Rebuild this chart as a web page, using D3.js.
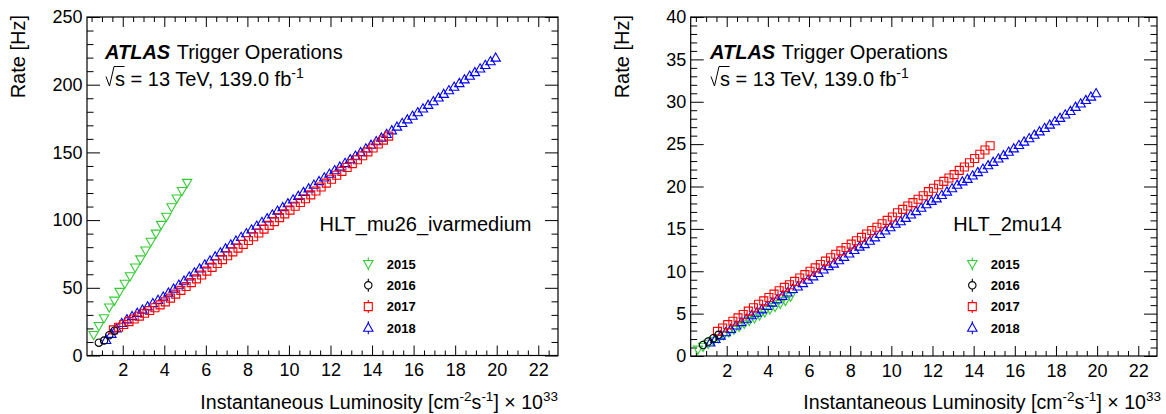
<!DOCTYPE html>
<html>
<head>
<meta charset="utf-8">
<script src="https://cdn.jsdelivr.net/npm/d3@7"></script>
<style>
  html, body { margin: 0; padding: 0; background: #fff; }
  svg { display: block; font-family: "Liberation Sans", Arial, Helvetica, sans-serif; }
</style>
</head>
<body>
<svg id="chart" width="1166" height="414"></svg>
<script>
// ---------------- DATA ----------------
const years = ["2015", "2016", "2017", "2018"];
const xTickLabels = [2, 4, 6, 8, 10, 12, 14, 16, 18, 20, 22];
const yTickLabelsLeft = [0, 50, 100, 150, 200, 250];
const yTickLabelsRight = [0, 5, 10, 15, 20, 25, 30, 35, 40];

// luminosity bins (x 10^33 cm^-2 s^-1)
const lumi2015 = [0.6,0.85,1.1,1.35,1.6,1.85,2.1,2.35,2.6,2.85,3.1,3.35,3.6,3.85,4.1,4.35,4.6,4.85,5.1];
const lumi2016 = [0.85,1.1,1.35,1.6];
const lumi2017 = [1.55,1.8,2.05,2.3,2.55,2.8,3.05,3.3,3.55,3.8,
  4.05,4.3,4.55,4.8,5.05,5.3,5.55,5.8,6.05,6.3,
  6.55,6.8,7.05,7.3,7.55,7.8,8.05,8.3,8.55,8.8,
  9.05,9.3,9.55,9.8,10.05,10.3,10.55,10.8,11.05,11.3,
  11.55,11.8,12.05,12.3,12.55,12.8,13.05,13.3,13.55,13.8,
  14.05,14.3,14.55,14.8];
const lumi2018 = [1.2,1.45,1.7,1.95,2.2,2.45,2.7,2.95,3.2,3.45,3.7,3.95,
  4.2,4.45,4.7,4.95,5.2,5.45,5.7,5.95,6.2,6.45,6.7,6.95,7.2,
  7.45,7.7,7.95,8.2,8.45,8.7,8.95,9.2,9.45,9.7,9.95,10.2,10.45,10.7,10.95,
  11.2,11.45,11.7,11.95,12.2,12.45,12.7,12.95,13.2,13.45,13.7,13.95,14.2,14.45,14.7,14.95,15.2,
  15.45,15.7,15.95,16.2,16.45,16.7,16.95,17.2,17.45,17.7,17.95,18.2,18.45,18.7,18.95,19.2,19.45,19.7,19.95];

// HLT_mu26_ivarmedium rates [Hz]
const mu26_2015 = [15.1,21.8,27.5,35.5,40.5,47,53,58.5,65,71,77.5,84,90,96.5,102.5,109.5,116,121.5,127.5];
const mu26_2016 = [9.5,11,15,18.3];
const mu26_2017 = [18.9,20.9,22.9,25,27,29.1,31.2,33.2,35.3,37.4,
  39.6,42.4,45.3,48.1,51,53.8,56.6,59.5,62.3,65.1,
  68,70.8,73.7,76.5,79.3,82.1,84.9,87.7,90.5,93.3,
  96.1,98.9,101.8,104.6,107.4,110.2,113,115.8,118.6,121.5,
  124.4,127.3,130.2,133.1,136,138.8,141.7,144.6,147.5,150.4,
  153.3,156.2,159.1,162];
const mu26_2018 = [11.5,16,20,24,26.7,29.1,31.5,33.9,36.3,38.7,41.1,43.5,
  46.4,49.4,52.3,55.3,58.3,61.3,64.2,67.2,70.2,73.2,76.1,79.1,82,
  84.8,87.5,90.3,93.1,95.8,98.6,101.3,104.1,106.9,109.6,112.4,115.2,117.9,120.7,123.4,
  126.1,128.8,131.5,134.2,136.8,139.5,142.2,144.9,147.5,150.2,152.9,155.6,158.2,160.9,163.6,166.3,169,
  171.7,174.4,177.1,179.7,182.4,185.1,187.8,190.5,193.2,195.9,198.5,201.2,203.9,206.6,209.3,212,214.6,217.3,220];

// HLT_2mu14 rates [Hz]
const mu14_2015 = [0.75,1.1,1.45,1.8,2.1,2.45,2.8,3.1,3.45,3.8,4.15,4.45,4.8,5.15,5.5,5.8,6.15,6.5,7.0];
const mu14_2016 = [1.3,1.7,2.1,2.5];
const mu14_2017 = [2.9,3.3,3.7,4.1,4.5,4.9,5.3,5.7,6.1,6.5,
  6.9,7.3,7.7,8.1,8.4,8.8,9.2,9.6,10.0,10.4,
  10.8,11.2,11.6,12.0,12.4,12.8,13.2,13.6,14.0,14.4,
  14.8,15.2,15.6,16.0,16.4,16.9,17.3,17.7,18.1,18.5,
  18.9,19.4,19.8,20.2,20.6,21.0,21.4,21.9,22.3,22.8,
  23.3,23.8,24.3,24.8];
const mu14_2018 = [1.6,2.0,2.4,2.8,3.2,3.6,4.0,4.4,4.8,5.1,5.5,5.9,
  6.3,6.7,7.1,7.5,7.9,8.2,8.6,9.0,9.4,9.8,10.2,10.6,10.9,
  11.3,11.7,12.1,12.5,12.9,13.2,13.6,14.0,14.4,14.8,15.2,15.6,15.9,16.3,16.7,
  17.1,17.5,17.9,18.3,18.6,19.0,19.4,19.8,20.2,20.6,20.9,21.3,21.7,22.1,22.5,22.9,23.3,
  23.7,24.1,24.5,24.9,25.3,25.7,26.1,26.5,26.9,27.3,27.7,28.1,28.5,28.9,29.4,29.8,30.2,30.6,31.0];

// ---------------- STYLE ----------------
const colors = { "2015": "#33cc33", "2016": "#000000", "2017": "#ff0000", "2018": "#0000ff" };
const shapes = { "2015": "triDown", "2016": "circle", "2017": "square", "2018": "triUp" };
const FONT = '"Liberation Sans", Arial, Helvetica, sans-serif';

function markerPath(shape) {
  switch (shape) {
    case "triUp": return "M0,-4.7L4.7,3.5L-4.7,3.5Z";
    case "triDown": return "M0,4.7L4.7,-3.5L-4.7,-3.5Z";
    case "square": return "M-4,-4L4,-4L4,4L-4,4Z";
    case "circle": return d3.arc()({innerRadius: 0, outerRadius: 3.7, startAngle: 0, endAngle: 2 * Math.PI});
  }
}

const svg = d3.select("#chart");
svg.append("rect").attr("width", 1166).attr("height", 414).attr("fill", "#fff");

const panels = [
  {
    x0: 87, x1: 558, y0: 17, y1: 355.5,
    xDomain: [0.28, 22.95], yDomain: [0, 250], yTicks: yTickLabelsLeft, yMinorStep: 10,
    series: { "2015": [lumi2015, mu26_2015], "2016": [lumi2016, mu26_2016], "2017": [lumi2017, mu26_2017], "2018": [lumi2018, mu26_2018] },
    label: "HLT_mu26_ivarmedium", labelX: 319.5, labelY: 230.7,
    atlasX: 105, legMarkX: 368.3, legTextX: 386.7,
    yTitleX: 25, xTitleEnd: 558
  },
  {
    x0: 690.7, x1: 1157, y0: 17, y1: 356,
    xDomain: [0.25, 22.91], yDomain: [0, 40], yTicks: yTickLabelsRight, yMinorStep: 1,
    series: { "2015": [lumi2015, mu14_2015], "2016": [lumi2016, mu14_2016], "2017": [lumi2017, mu14_2017], "2018": [lumi2018, mu14_2018] },
    label: "HLT_2mu14", labelX: 953.3, labelY: 231,
    atlasX: 710, legMarkX: 972.3, legTextX: 990.7,
    yTitleX: 629, xTitleEnd: 1161
  }
];

panels.forEach(p => {
  const x = d3.scaleLinear().domain(p.xDomain).range([p.x0, p.x1]);
  const y = d3.scaleLinear().domain(p.yDomain).range([p.y1, p.y0]);
  const g = svg.append("g");

  // minor ticks
  const xMinor = d3.range(0.5, p.xDomain[1], 0.5).filter(v => v > p.xDomain[0] && Math.abs(v / 2 - Math.round(v / 2)) > 1e-6);
  const yMinor = d3.range(p.yDomain[0], p.yDomain[1], p.yMinorStep).filter(v => !p.yTicks.includes(v));

  const styleAxis = sel => {
    sel.select(".domain").remove();
    sel.selectAll(".tick line").attr("stroke", "#000").attr("stroke-width", 1);
    sel.selectAll("text").attr("font-family", FONT).attr("font-size", 18).attr("fill", "#000");
  };

  // bottom axis
  g.append("g").attr("transform", `translate(0,${p.y1})`)
    .call(d3.axisBottom(x).tickValues(xTickLabels).tickSize(-10).tickSizeOuter(0).tickPadding(8).tickFormat(d3.format("d")))
    .call(styleAxis);
  g.append("g").attr("transform", `translate(0,${p.y1})`)
    .call(d3.axisBottom(x).tickValues(xMinor).tickSize(-5).tickSizeOuter(0).tickFormat(""))
    .call(styleAxis);
  // top axis
  g.append("g").attr("transform", `translate(0,${p.y0})`)
    .call(d3.axisTop(x).tickValues(xTickLabels).tickSize(-10).tickSizeOuter(0).tickFormat(""))
    .call(styleAxis);
  g.append("g").attr("transform", `translate(0,${p.y0})`)
    .call(d3.axisTop(x).tickValues(xMinor).tickSize(-5).tickSizeOuter(0).tickFormat(""))
    .call(styleAxis);
  // left axis
  g.append("g").attr("transform", `translate(${p.x0},0)`)
    .call(d3.axisLeft(y).tickValues(p.yTicks).tickSize(-13).tickSizeOuter(0).tickPadding(4.5).tickFormat(d3.format("d")))
    .call(styleAxis);
  g.append("g").attr("transform", `translate(${p.x0},0)`)
    .call(d3.axisLeft(y).tickValues(yMinor).tickSize(-6.5).tickSizeOuter(0).tickFormat(""))
    .call(styleAxis);
  // right axis
  g.append("g").attr("transform", `translate(${p.x1},0)`)
    .call(d3.axisRight(y).tickValues(p.yTicks).tickSize(-13).tickSizeOuter(0).tickFormat(""))
    .call(styleAxis);
  g.append("g").attr("transform", `translate(${p.x1},0)`)
    .call(d3.axisRight(y).tickValues(yMinor).tickSize(-6.5).tickSizeOuter(0).tickFormat(""))
    .call(styleAxis);

  // frame
  g.append("rect").attr("x", p.x0).attr("y", p.y0).attr("width", p.x1 - p.x0).attr("height", p.y1 - p.y0)
    .attr("fill", "none").attr("stroke", "#000").attr("stroke-width", 1.2);

  // data points
  const drawOrder = ["2015", "2018", "2017", "2016"];
  drawOrder.forEach(yr => {
    const [xs, vs] = p.series[yr];
    const pts = xs.map((xv, i) => ({ x: xv, v: vs[i] }));
    g.append("g").selectAll("path").data(pts).join("path")
      .attr("d", markerPath(shapes[yr]))
      .attr("transform", d => `translate(${x(d.x)},${y(d.v)})`)
      .attr("fill", "none").attr("stroke", colors[yr]).attr("stroke-width", 1.1);
  });

  // ATLAS label
  const t1 = g.append("text").attr("x", p.atlasX).attr("y", 59.3)
    .attr("font-family", FONT).attr("font-size", 20).attr("fill", "#000");
  t1.append("tspan").attr("font-weight", "bold").attr("font-style", "italic").text("ATLAS");
  t1.append("tspan").attr("dx", 6.5).text("Trigger Operations");

  // sqrt(s) line
  const sx = p.atlasX + 10;
  g.append("path")
    .attr("d", `M${sx - 9},${76.5}L${sx - 5.5},${86}L${sx - 1},${66.5}L${sx + 9.5},${66.5}`)
    .attr("fill", "none").attr("stroke", "#000").attr("stroke-width", 1);
  const t2 = g.append("text").attr("x", sx).attr("y", 86)
    .attr("font-family", FONT).attr("font-size", 20).attr("fill", "#000");
  t2.append("tspan").text("s = 13 TeV, 139.0 fb");
  t2.append("tspan").attr("font-size", 14).attr("dy", -8).text("-1");

  // trigger name
  g.append("text").attr("x", p.labelX).attr("y", p.labelY)
    .attr("font-family", FONT).attr("font-size", 20).attr("fill", "#000").text(p.label);

  // legend
  const legY = [264, 285.3, 306.6, 327.8];
  years.forEach((yr, i) => {
    const lg = g.append("g").attr("transform", `translate(${p.legMarkX},${legY[i]})`);
    lg.append("line").attr("x1", 0).attr("x2", 0).attr("y1", -6.5).attr("y2", 6.5)
      .attr("stroke", colors[yr]).attr("stroke-width", 1.1);
    lg.append("path").attr("d", markerPath(shapes[yr]))
      .attr("fill", "#fff").attr("stroke", colors[yr]).attr("stroke-width", 1.1);
    g.append("text").attr("x", p.legTextX).attr("y", legY[i] + 4.7)
      .attr("font-family", FONT).attr("font-size", 13).attr("font-weight", "bold").attr("fill", "#000").text(yr);
  });

  // y title
  g.append("text").attr("transform", `translate(${p.yTitleX},15) rotate(-90)`)
    .attr("text-anchor", "end").attr("font-family", FONT).attr("font-size", 20).attr("fill", "#000")
    .text("Rate [Hz]");

  // x title
  const xt = g.append("text").attr("x", p.xTitleEnd).attr("y", 409).attr("text-anchor", "end")
    .attr("font-family", FONT).attr("font-size", 19.6).attr("fill", "#000");
  xt.append("tspan").text("Instantaneous Luminosity [cm");
  xt.append("tspan").attr("font-size", 13.5).attr("dy", -8).text("-2");
  xt.append("tspan").attr("dy", 8).text("s");
  xt.append("tspan").attr("font-size", 13.5).attr("dy", -8).text("-1");
  xt.append("tspan").attr("dy", 8).text("] \u00d7 10");
  xt.append("tspan").attr("font-size", 13.5).attr("dy", -8).text("33");
});
</script>
</body>
</html>
